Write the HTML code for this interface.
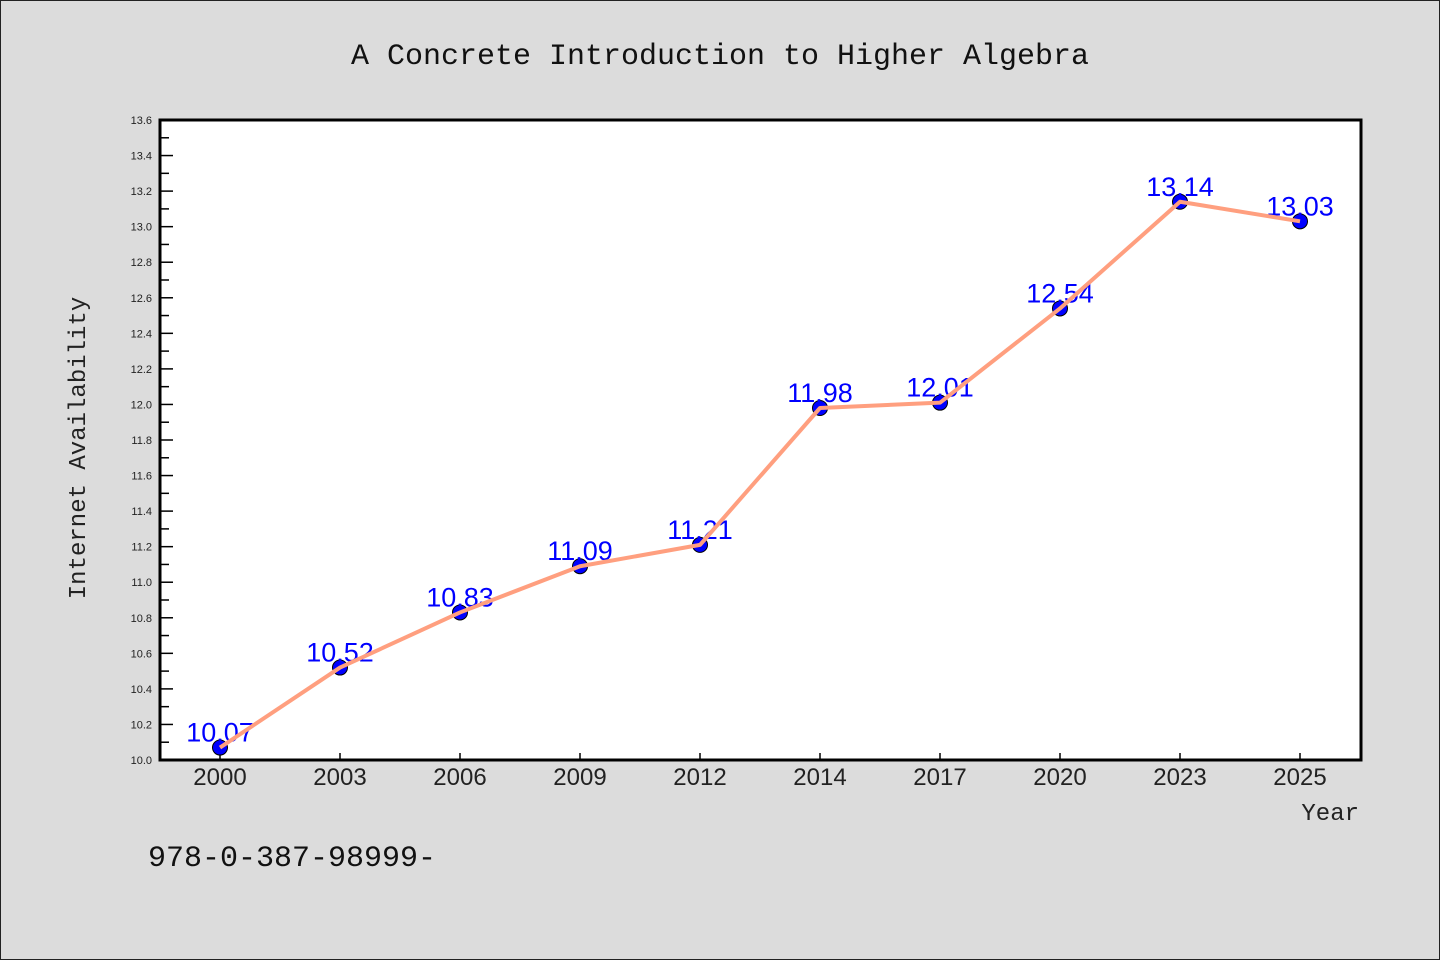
<!DOCTYPE html>
<html><head><meta charset="utf-8"><style>
html,body{margin:0;padding:0;background:#dcdcdc;}
svg{display:block;}
</style></head><body>
<svg width="1440" height="960" xmlns="http://www.w3.org/2000/svg">
<rect x="0.5" y="0.5" width="1439" height="959" fill="#dcdcdc" stroke="#222"/>
<text x="720" y="64" text-anchor="middle" font-family="Liberation Mono, monospace" font-size="30" fill="#111">A Concrete Introduction to Higher Algebra</text>
<rect x="160" y="120" width="1201" height="640" fill="#fff"/>
<g id="ticks"></g>
<g id="marks"></g>
<rect x="160" y="120" width="1201" height="640" fill="none" stroke="#000" stroke-width="3"/>
<text transform="translate(85,448) rotate(-90)" text-anchor="middle" font-family="Liberation Mono, monospace" font-size="24" fill="#222">Internet Availability</text>
<text x="1359" y="820" text-anchor="end" font-family="Liberation Mono, monospace" font-size="24" fill="#222">Year</text>
<text x="148" y="866" font-family="Liberation Mono, monospace" font-size="30" fill="#111">978-0-387-98999-</text>
</svg>
<script>
const categories=["2000","2003","2006","2009","2012","2014","2017","2020","2023","2025"];
const values=[10.07,10.52,10.83,11.09,11.21,11.98,12.01,12.54,13.14,13.03];
const valueLabels=["10,07","10,52","10,83","11,09","11,21","11,98","12,01","12,54","13,14","13,03"];
const yTicks=[10.0,10.2,10.4,10.6,10.8,11.0,11.2,11.4,11.6,11.8,12.0,12.2,12.4,12.6,12.8,13.0,13.2,13.4,13.6];
const yMin=10.0,yMax=13.6,plotTop=120,plotBottom=760,plotLeft=160,plotRight=1360;
const NS="http://www.w3.org/2000/svg";
function yS(v){return plotBottom-(v-yMin)/(yMax-yMin)*(plotBottom-plotTop);}
function xS(i){const bw=(plotRight-plotLeft)/categories.length;return plotLeft+bw*(i+0.5);}
function mk(t,a,p){const e=document.createElementNS(NS,t);for(const k in a)e.setAttribute(k,a[k]);p.appendChild(e);return e;}
const tg=document.getElementById('ticks'),mg=document.getElementById('marks');
yTicks.forEach((v,i)=>{
 const y=yS(v);
 const l=mk('line',{x1:plotLeft,x2:plotLeft+13,y1:y,y2:y,stroke:'#000','stroke-width':1.5},tg);
 
 
 const t=mk('text',{x:152,y:y+4,'text-anchor':'end','font-family':'Liberation Sans, sans-serif','font-size':11,fill:'#222'},tg);
 t.textContent=v.toFixed(1);
 
 
 if(i<yTicks.length-1){const ym=yS(v+0.1);
  const m=mk('line',{x1:plotLeft,x2:plotLeft+9,y1:ym,y2:ym,stroke:'#000','stroke-width':1.5},tg);
  
  }
});
categories.forEach((c,i)=>{
 const x=xS(i);
 const l=mk('line',{x1:x,x2:x,y1:plotBottom,y2:plotBottom-7,stroke:'#000','stroke-width':1.5},tg);
 
 
 const t=mk('text',{x:x,y:785,'text-anchor':'middle','font-family':'Liberation Sans, sans-serif','font-size':24,fill:'#222'},tg);
 t.textContent=c;
 
 
});
values.forEach((v,i)=>{
 const c=mk('circle',{cx:xS(i),cy:yS(v),r:7.5,fill:'#0000ff',stroke:'#000','stroke-width':1},mg);
 
 
 const t=mk('text',{x:xS(i),y:yS(v)-6,'text-anchor':'middle','font-family':'Liberation Sans, sans-serif','font-size':27,fill:'#0000ff'},mg);
 t.textContent=valueLabels[i];
 
 
});
const pl=mk('polyline',{points:values.map((v,i)=>xS(i)+','+yS(v)).join(' '),fill:'none',stroke:'#ff9f7f','stroke-width':4,'stroke-linejoin':'round'},mg);


</script>
</body></html>
